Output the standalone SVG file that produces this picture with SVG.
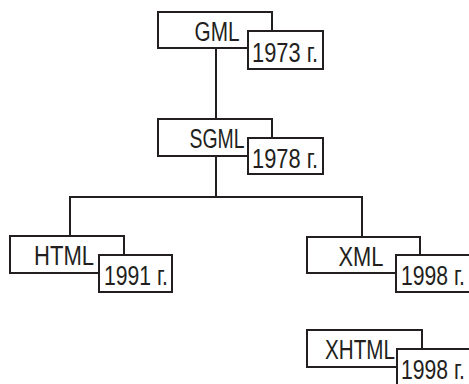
<svg xmlns="http://www.w3.org/2000/svg" width="469" height="384" viewBox="0 0 469 384">
<style>
.b{fill:#fff;stroke:#231f20;stroke-width:2}
.t{font-family:"Liberation Sans",Arial,sans-serif;font-size:27px;fill:#231f20;text-anchor:middle}
.c{fill:none;stroke:#231f20;stroke-width:2}
</style>
<rect width="469" height="384" fill="#fff"/>
<g id="connectors">
<path class="c" d="M216 48V119M216 156V197M70 236V197H362V237"/>
</g>
<g id="gml">
<rect class="b" x="158" y="12" width="114" height="36"/>
<text class="t" x="217" y="41" textLength="45" lengthAdjust="spacingAndGlyphs">GML</text>
<rect class="b" x="248" y="31" width="75" height="38"/>
<text class="t" x="285" y="62" textLength="66" lengthAdjust="spacingAndGlyphs">1973 г.</text>
</g>
<g id="sgml">
<rect class="b" x="158" y="119" width="114" height="37"/>
<text class="t" x="217" y="148" textLength="55" lengthAdjust="spacingAndGlyphs">SGML</text>
<rect class="b" x="248" y="138" width="75" height="36"/>
<text class="t" x="285" y="168" textLength="66" lengthAdjust="spacingAndGlyphs">1978 г.</text>
</g>
<g id="html">
<rect class="b" x="10" y="236" width="114" height="37"/>
<text class="t" x="64" y="265" textLength="60" lengthAdjust="spacingAndGlyphs">HTML</text>
<rect class="b" x="99" y="255" width="73" height="37"/>
<text class="t" x="136" y="285" textLength="64" lengthAdjust="spacingAndGlyphs">1991 г.</text>
</g>
<g id="xml">
<rect class="b" x="307" y="237" width="113" height="36"/>
<text class="t" x="361" y="266" textLength="45" lengthAdjust="spacingAndGlyphs">XML</text>
<rect class="b" x="396" y="255" width="76" height="37"/>
<text class="t" x="433" y="285" textLength="64" lengthAdjust="spacingAndGlyphs">1998 г.</text>
</g>
<g id="xhtml">
<rect class="b" x="307" y="330" width="115" height="37"/>
<text class="t" x="360" y="359" textLength="70" lengthAdjust="spacingAndGlyphs">XHTML</text>
<rect class="b" x="397" y="349" width="76" height="40"/>
<text class="t" x="433" y="379" textLength="64" lengthAdjust="spacingAndGlyphs">1998 г.</text>
</g>
</svg>
